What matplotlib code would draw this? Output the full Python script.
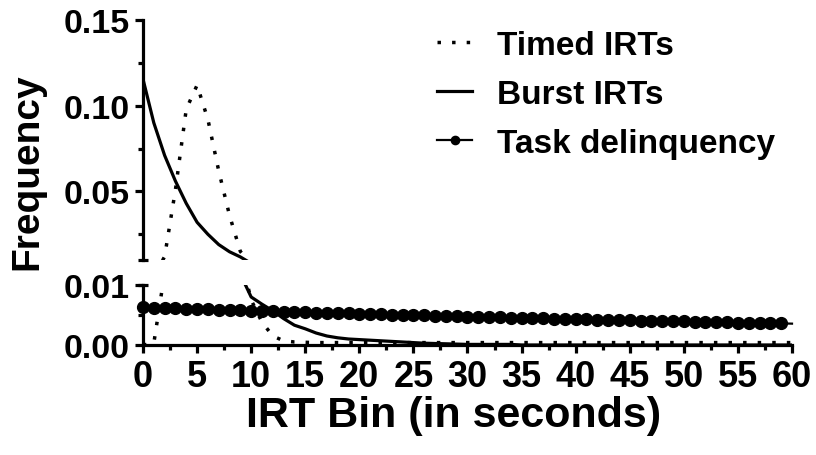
import numpy as np
import matplotlib
matplotlib.use('Agg')
import matplotlib.pyplot as plt
from matplotlib.ticker import MultipleLocator, FormatStrFormatter

plt.rcParams['font.family'] = ['Liberation Sans', 'DejaVu Sans']
plt.rcParams['font.weight'] = 'bold'

# IRT bins (s)
bins = np.arange(0, 61)

# Timed IRTs frequency per bin
timed = [0.0, 0.0003, 0.012, 0.051, 0.098, 0.112, 0.092, 0.062, 0.036, 0.015,
         0.0075, 0.0038, 0.0015, 0.0007, 0.0005, 0.00045, 0.0004, 0.0004, 0.0004, 0.0004,
         0.0004, 0.0004, 0.0004, 0.0004, 0.0004, 0.0004, 0.0004, 0.0004, 0.0004, 0.0004,
         0.0004, 0.0004, 0.0004, 0.0004, 0.0004, 0.0004, 0.0004, 0.0004, 0.0004, 0.0004,
         0.0004, 0.0004, 0.0004, 0.0004, 0.0004, 0.0004, 0.0004, 0.0004, 0.0004, 0.0004,
         0.0004, 0.0004, 0.0004, 0.0004, 0.0004, 0.0004, 0.0004, 0.0004, 0.0004, 0.0004,
         0.0004]

# Burst IRTs frequency per bin
burst = [0.1155, 0.090, 0.071, 0.056, 0.043, 0.032, 0.025, 0.019, 0.0148, 0.0118,
         0.0080, 0.0068, 0.0057, 0.0044, 0.0033, 0.0027, 0.0020, 0.0015, 0.0012, 0.0010,
         0.0009, 0.0008, 0.0007, 0.0006, 0.0005, 0.0004, 0.0003, 0.00025, 0.0002, 0.00015,
         0.0001, 0.0001, 0.0001, 0.0001, 0.0001, 0.0, 0.0, 0.0, 0.0, 0.0,
         0.0, 0.0, 0.0, 0.0, 0.0, 0.0, 0.0, 0.0, 0.0, 0.0,
         0.0, 0.0, 0.0, 0.0, 0.0, 0.0, 0.0, 0.0, 0.0, 0.0,
         0.0]

# Task delinquency frequency per bin
delinq = [0.00630, 0.00624, 0.00618, 0.00612, 0.00607, 0.00601, 0.00595, 0.00589, 0.00584, 0.00578,
          0.00573, 0.00567, 0.00562, 0.00557, 0.00552, 0.00546, 0.00541, 0.00536, 0.00531, 0.00526,
          0.00521, 0.00516, 0.00511, 0.00506, 0.00502, 0.00497, 0.00492, 0.00487, 0.00483, 0.00478,
          0.00474, 0.00469, 0.00465, 0.00460, 0.00456, 0.00452, 0.00447, 0.00443, 0.00439, 0.00435,
          0.00431, 0.00427, 0.00423, 0.00419, 0.00415, 0.00411, 0.00407, 0.00403, 0.00399, 0.00396,
          0.00392, 0.00388, 0.00384, 0.00381, 0.00377, 0.00374, 0.00370, 0.00367, 0.00363, 0.00360,
          0.00356]

W, H = 816, 456
fig = plt.figure(figsize=(W/100, H/100), dpi=100)

left = 143/W
width = (792-143)/W
ax_top = fig.add_axes([left, (H-261)/H, width, 240/H])
ax_bot = fig.add_axes([left, (H-346)/H, width, 60/H])

grosor = 2.3
dots = (0, (1, 3.2))
for ax in (ax_top, ax_bot):
    ax.plot(bins, timed, color='k', lw=2.5, ls=dots, label='Timed IRTs')
    ax.plot(bins, burst, color='k', lw=grosor, ls='-', label='Burst IRTs')
    ax.set_xlim(0, 60)
    ax.spines[['top', 'right']].set_visible(False)
    ax.spines['left'].set_linewidth(grosor)
    ax.tick_params(which='major', length=5.8, width=grosor, pad=4)
    ax.tick_params(which='minor', length=3.6, width=grosor)
    ax.tick_params(axis='y', labelsize=24.5)
    ax.yaxis.set_major_formatter(FormatStrFormatter('%.2f'))

# task delinquency lies entirely in the lower segment
ax_bot.plot(bins, delinq, color='k', lw=1.6, marker='o', ms=8.5, markevery=range(60),
            clip_on=False, label='Task delinquency')

ax_top.set_ylim(0.01, 0.15)
ax_top.set_yticks([0.05, 0.10, 0.15])
ax_top.set_yticks([0.025, 0.075, 0.125], minor=True)
ax_top.spines['bottom'].set_visible(False)
ax_top.tick_params(axis='x', which='both', bottom=False, labelbottom=False)

ax_bot.set_ylim(0, 0.01)
ax_bot.set_yticks([0.00, 0.01])
ax_bot.set_yticks([0.005], minor=True)
ax_bot.spines['bottom'].set_linewidth(grosor)
ax_bot.xaxis.set_major_locator(MultipleLocator(5))
ax_bot.xaxis.set_minor_locator(MultipleLocator(2.5))
ax_bot.tick_params(axis='x', which='major', pad=4, labelsize=26)

# caps at the axis break
for ax in (ax_top, ax_bot):
    ax.plot([0], [0.01], marker='_', ms=6.5, mew=grosor, color='k', clip_on=False)

fig.text(27.5/W, 1-171.5/H, 'Frequency', rotation=90, ha='center', va='center',
         fontsize=28, fontweight='bold')
fig.text(454/W, 1-416/H, 'IRT Bin (in seconds)', ha='center', va='center',
         fontsize=31, fontweight='bold')

h_top, l_top = ax_top.get_legend_handles_labels()
h_bot, l_bot = ax_bot.get_legend_handles_labels()
ax_top.legend(h_top + h_bot[-1:], l_top + l_bot[-1:],
              loc='upper left', bbox_to_anchor=(437/W, 1-31/H), bbox_transform=fig.transFigure,
              frameon=False, fontsize=24, handlelength=1.05, handletextpad=0.75,
              labelspacing=0.54, borderpad=0, borderaxespad=0, markerscale=0.7)

fig.savefig('out.png', dpi=100)
